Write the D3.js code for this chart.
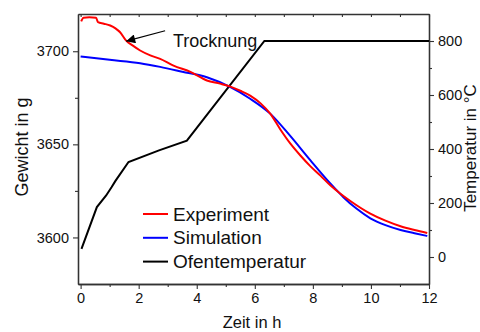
<!DOCTYPE html>
<html>
<head>
<meta charset="utf-8">
<script src="https://cdn.jsdelivr.net/npm/d3@7"></script>
<style>
  body { margin: 0; background: #fff; }
  svg text { font-family: "Liberation Sans", Arial, sans-serif; fill: #111; }
</style>
</head>
<body>
<div id="chart"></div>
<script>
// experiment (red)
const timeExp = [0.02, 0.1, 0.3, 0.53, 0.6, 0.8, 1.02, 1.2, 1.36, 1.57, 1.8, 2.05, 2.4, 2.74, 3.2, 3.8, 4.35, 4.8, 5.16, 5.5, 5.84, 6.2, 6.53, 6.88, 7.22, 7.57, 7.91, 8.26, 8.6, 8.95, 9.29, 9.98, 10.5, 11.02, 11.5, 11.94];
const massExp = [3716, 3718, 3718.2, 3718, 3715.6, 3714.8, 3713.8, 3712.3, 3710.2, 3705.7, 3703, 3700.4, 3697.8, 3695.9, 3692.3, 3688.8, 3684.3, 3682.6, 3681, 3678.8, 3676.2, 3672, 3666.5, 3658, 3650.5, 3644, 3638.3, 3633.2, 3628, 3623.5, 3619.6, 3612.8, 3609, 3606, 3604, 3602.4];

// simulation (blue)
const timeSim = [0, 1, 2.05, 2.74, 3.5, 4.35, 5.16, 5.84, 6.53, 7.22, 7.91, 8.6, 9.06, 9.5, 9.98, 10.5, 11.02, 11.5, 11.94];
const massSim = [3697.2, 3695.4, 3693.6, 3691.6, 3689, 3686, 3680.7, 3674.5, 3666.5, 3654.5, 3641.5, 3629, 3621.5, 3615.5, 3610.3, 3606.6, 3604, 3602.3, 3600.8];

// oven temperature (black, right axis)
const timeOven = [0.03, 0.56, 0.88, 1.07, 1.2, 1.65, 2.7, 3.66, 6.33, 12];
const tempOven = [30, 185, 228, 259, 282, 352, 395, 431, 800, 800];

const xTicks = [0, 2, 4, 6, 8, 10, 12];
const xMinor = [1, 3, 5, 7, 9, 11];
const massTicks = [3600, 3650, 3700];
const massMinor = [3625, 3675];
const tempTicks = [0, 200, 400, 600, 800];
const tempMinor = [100, 300, 500, 700];

const legendNames = ["Experiment", "Simulation", "Ofentemperatur"];
const legendColors = ["#ff0000", "#0000ff", "#000000"];

const W = 480, H = 332;
const plotL = 78, plotR = 429, plotT = 14, plotB = 284;

const svg = d3.select("#chart").append("svg")
  .attr("width", W).attr("height", H);

const x = d3.scaleLinear().domain([-0.09, 12]).range([plotL, plotR]);
const yM = d3.scaleLinear().domain([3575, 3720]).range([plotB, plotT]);
const yT = d3.scaleLinear().domain([-100, 900]).range([plotB, plotT]);

const axisColor = "#333";

function styleAxis(g) {
  g.selectAll("path.domain").attr("stroke", axisColor).attr("stroke-width", 1.3);
  g.selectAll(".tick line").attr("stroke", axisColor).attr("stroke-width", 1.1);
  g.selectAll(".tick text").attr("font-size", 14.5)
    .attr("font-family", '"Liberation Sans", Arial, sans-serif').attr("fill", "#111");
}

// bottom axis
svg.append("g").attr("transform", `translate(0,${plotB})`)
  .call(d3.axisBottom(x).tickValues(xTicks).tickSize(5).tickPadding(4).tickSizeOuter(0))
  .call(styleAxis);
svg.append("g").attr("transform", `translate(0,${plotB})`)
  .call(d3.axisBottom(x).tickValues(xMinor).tickSize(3).tickFormat("").tickSizeOuter(0))
  .call(styleAxis);

// top axis (ticks inward, no labels)
svg.append("g").attr("transform", `translate(0,${plotT})`)
  .call(d3.axisTop(x).tickValues(d3.range(0, 13)).tickSize(-3).tickFormat("").tickSizeOuter(0))
  .call(styleAxis);

// left axis
svg.append("g").attr("transform", `translate(${plotL},0)`)
  .call(d3.axisLeft(yM).tickValues(massTicks).tickSize(5).tickPadding(4).tickFormat(d3.format("d")).tickSizeOuter(0))
  .call(styleAxis);
svg.append("g").attr("transform", `translate(${plotL},0)`)
  .call(d3.axisLeft(yM).tickValues(massMinor).tickSize(3).tickFormat("").tickSizeOuter(0))
  .call(styleAxis);

// right axis
svg.append("g").attr("transform", `translate(${plotR},0)`)
  .call(d3.axisRight(yT).tickValues(tempTicks).tickSize(5).tickPadding(4).tickSizeOuter(0))
  .call(styleAxis);
svg.append("g").attr("transform", `translate(${plotR},0)`)
  .call(d3.axisRight(yT).tickValues(tempMinor).tickSize(3).tickFormat("").tickSizeOuter(0))
  .call(styleAxis);

// axis titles
svg.append("text").attr("x", 252).attr("y", 328)
  .attr("text-anchor", "middle").attr("font-size", 16.5).text("Zeit in h");
svg.append("text").attr("transform", "translate(28,147) rotate(-90)")
  .attr("text-anchor", "middle").attr("font-size", 18).text("Gewicht in g");
svg.append("text").attr("transform", "translate(476,148) rotate(-90)")
  .attr("text-anchor", "middle").attr("font-size", 17).text("Temperatur in °C");

// series
const lineM = d3.line().x(d => x(d[0])).y(d => yM(d[1])).curve(d3.curveMonotoneX);
const lineT = d3.line().x(d => x(d[0])).y(d => yT(d[1]));

svg.append("path").datum(d3.zip(timeOven, tempOven))
  .attr("d", lineT).attr("fill", "none").attr("stroke", "#000").attr("stroke-width", 2);
svg.append("path").datum(d3.zip(timeSim, massSim))
  .attr("d", lineM).attr("fill", "none").attr("stroke", "#0000ff").attr("stroke-width", 2);
svg.append("path").datum(d3.zip(timeExp, massExp))
  .attr("d", lineM).attr("fill", "none").attr("stroke", "#ff0000").attr("stroke-width", 2);

// annotation "Trocknung" with arrow
svg.append("defs").append("marker")
  .attr("id", "arrow").attr("viewBox", "0 0 10 10")
  .attr("refX", 10).attr("refY", 5)
  .attr("markerWidth", 14).attr("markerHeight", 9)
  .attr("markerUnits", "userSpaceOnUse")
  .attr("orient", "auto")
  .append("path").attr("d", "M0,0 L10,5 L0,10 Z").attr("fill", "#000");

svg.append("line")
  .attr("x1", x(2.91)).attr("y1", yM(3711))
  .attr("x2", x(1.57)).attr("y2", yM(3705.4))
  .attr("stroke", "#000").attr("stroke-width", 1.2)
  .attr("marker-end", "url(#arrow)");
svg.append("text").attr("x", 173).attr("y", 47)
  .attr("font-size", 18).text("Trocknung");

// legend
const legend = svg.append("g");
legendNames.forEach((name, i) => {
  const ly = 214 + i * 23.8;
  legend.append("line").attr("x1", 143).attr("x2", 168).attr("y1", ly).attr("y2", ly)
    .attr("stroke", legendColors[i]).attr("stroke-width", 2);
  legend.append("text").attr("x", 173).attr("y", ly + 6.5)
    .attr("font-size", 19).text(name);
});
</script>
</body>
</html>
